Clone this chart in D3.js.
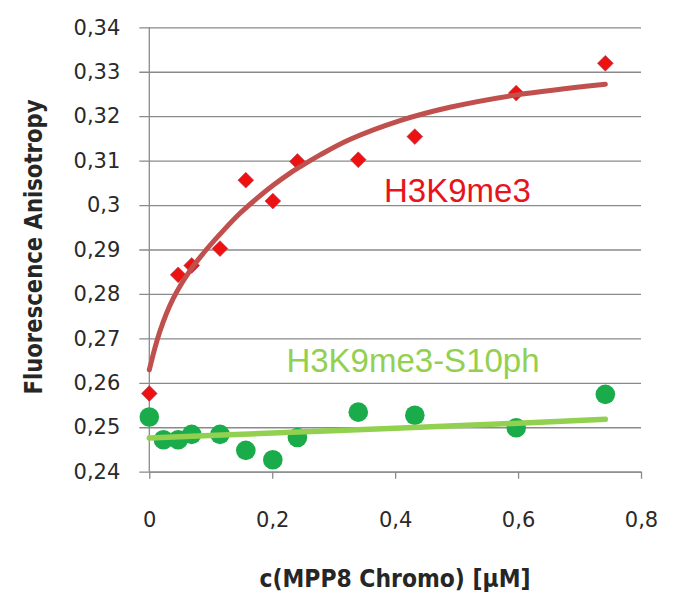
<!DOCTYPE html>
<html>
<head>
<meta charset="utf-8">
<script src="https://cdn.jsdelivr.net/npm/d3@7"></script>
<style>
  body { margin: 0; background: #fff; }
</style>
</head>
<body>
<div id="chart"></div>
<script>
// Data
const conc = [0, 0.023, 0.047, 0.069, 0.115, 0.157, 0.201, 0.241, 0.340, 0.432, 0.597, 0.742];
const h3k9me3 = [0.2576, null, 0.2843, 0.2864, 0.2902, 0.3056, 0.3009, 0.3098, 0.3102, 0.3154, 0.3252, 0.3319];
const h3k9me3S10ph = [0.2523, 0.2472, 0.2472, 0.2484, 0.2484, 0.2448, 0.2427, 0.2477, 0.2534, 0.2527, 0.2499, 0.2574];

// trendlines
const fitRedX = [0, 0.017, 0.039, 0.066, 0.093, 0.120, 0.148, 0.175, 0.202, 0.229, 0.245, 0.278, 0.327, 0.408, 0.489, 0.598, 0.742];
const fitRedY = [0.2629, 0.2715, 0.2790, 0.2852, 0.2900, 0.2942, 0.2982, 0.3015, 0.3045, 0.3072, 0.3086, 0.3113, 0.3148, 0.3190, 0.3220, 0.3248, 0.3272];
const fitGreenX = [0, 0.2, 0.4, 0.6, 0.742];
const fitGreenY = [0.2476, 0.2487, 0.2498, 0.2509, 0.2518];

const yTicks = [0.24, 0.25, 0.26, 0.27, 0.28, 0.29, 0.30, 0.31, 0.32, 0.33, 0.34];
const yTickLabels = ["0,24", "0,25", "0,26", "0,27", "0,28", "0,29", "0,3", "0,31", "0,32", "0,33", "0,34"];
const xTicks = [0, 0.2, 0.4, 0.6, 0.8];
const xTickLabels = ["0", "0,2", "0,4", "0,6", "0,8"];

const width = 685, height = 610;
const margin = { left: 149.3, right: 44, top: 27.3, bottom: 138.3 };

const svg = d3.select("#chart")
    .append("svg")
    .attr("width", width)
    .attr("height", height)
    .style("background", "#fff");

const x = d3.scaleLinear()
    .domain([0, 0.8])
    .range([margin.left, width - margin.right]);

const y = d3.scaleLinear()
    .domain([0.24, 0.34])
    .range([height - margin.bottom, margin.top]);

const gridLeft = margin.left - 10;

// gridlines + y tick labels
const yAxis = svg.append("g")
    .attr("transform", `translate(${gridLeft},0)`)
    .call(d3.axisLeft(y)
        .tickValues(yTicks)
        .tickFormat((d, i) => yTickLabels[i])
        .tickSizeInner(-(x.range()[1] - gridLeft))
        .tickSizeOuter(0)
        .tickPadding(19));
yAxis.select(".domain").remove();
yAxis.selectAll(".tick line")
    .attr("stroke", "#8a8a8a")
    .attr("stroke-width", 1.3);
yAxis.selectAll(".tick text")
    .style("font-family", "DejaVu Sans")
    .style("font-size", "21px")
    .attr("fill", "#2a2a2a");

// x axis
const xAxis = svg.append("g")
    .attr("transform", `translate(0,${y(0.24)})`)
    .call(d3.axisBottom(x)
        .tickValues(xTicks)
        .tickFormat((d, i) => xTickLabels[i])
        .tickSizeInner(7)
        .tickSizeOuter(0)
        .tickPadding(33.5));
xAxis.select(".domain").attr("stroke", "#8a8a8a").attr("stroke-width", 1.3);
xAxis.selectAll(".tick line").attr("stroke", "#8a8a8a").attr("stroke-width", 1.3);
xAxis.selectAll(".tick text")
    .style("font-family", "DejaVu Sans")
    .style("font-size", "21px")
    .attr("fill", "#2a2a2a");

// vertical axis line
svg.append("line")
    .attr("x1", x(0)).attr("x2", x(0))
    .attr("y1", y(0.34)).attr("y2", y(0.24))
    .attr("stroke", "#8a8a8a")
    .attr("stroke-width", 1.3);

// axis titles
svg.append("text")
    .attr("x", 395)
    .attr("y", 587)
    .attr("text-anchor", "middle")
    .attr("textLength", 271)
    .attr("lengthAdjust", "spacingAndGlyphs")
    .style("font-family", "DejaVu Sans")
    .style("font-weight", "bold")
    .style("font-size", "24px")
    .attr("fill", "#262626")
    .text("c(MPP8 Chromo) [µM]");

svg.append("text")
    .attr("transform", "translate(42,247) rotate(-90)")
    .attr("text-anchor", "middle")
    .attr("textLength", 295)
    .attr("lengthAdjust", "spacingAndGlyphs")
    .style("font-family", "DejaVu Sans")
    .style("font-weight", "bold")
    .style("font-size", "25px")
    .attr("fill", "#262626")
    .text("Fluorescence Anisotropy");

// green circles
const greenPts = conc.map((c, i) => ({ x: c, y: h3k9me3S10ph[i] }));
svg.append("g")
    .selectAll("circle")
    .data(greenPts)
    .enter()
    .append("circle")
    .attr("cx", d => x(d.x))
    .attr("cy", d => y(d.y))
    .attr("r", 9.8)
    .attr("fill", "#1aab4b");

// red diamonds
const redPts = conc.map((c, i) => ({ x: c, y: h3k9me3[i] })).filter(d => d.y !== null);
svg.append("g")
    .selectAll("path")
    .data(redPts)
    .enter()
    .append("path")
    .attr("d", d3.symbol(d3.symbolSquare, 125))
    .attr("transform", d => `translate(${x(d.x)},${y(d.y)}) rotate(45)`)
    .attr("fill", "#ee1111")
    .attr("stroke", "#b0485a")
    .attr("stroke-width", 0.6);

// trendlines
const line = d3.line()
    .x(d => x(d[0]))
    .y(d => y(d[1]))
    .curve(d3.curveCatmullRom.alpha(0.5));

svg.append("path")
    .datum(fitRedX.map((v, i) => [v, fitRedY[i]]))
    .attr("d", line)
    .attr("fill", "none")
    .attr("stroke", "#c0504d")
    .attr("stroke-width", 5)
    .attr("stroke-linecap", "round");

svg.append("path")
    .datum(fitGreenX.map((v, i) => [v, fitGreenY[i]]))
    .attr("d", line)
    .attr("fill", "none")
    .attr("stroke", "#92d050")
    .attr("stroke-width", 5.5)
    .attr("stroke-linecap", "round");

// series labels
svg.append("text")
    .attr("x", 384)
    .attr("y", 201.7)
    .style("font-family", "Liberation Sans")
    .style("font-size", "33px")
    .attr("fill", "#e8141c")
    .text("H3K9me3");

svg.append("text")
    .attr("x", 286.4)
    .attr("y", 371.7)
    .style("font-family", "Liberation Sans")
    .style("font-size", "33px")
    .attr("fill", "#92d050")
    .text("H3K9me3-S10ph");
</script>
</body>
</html>
